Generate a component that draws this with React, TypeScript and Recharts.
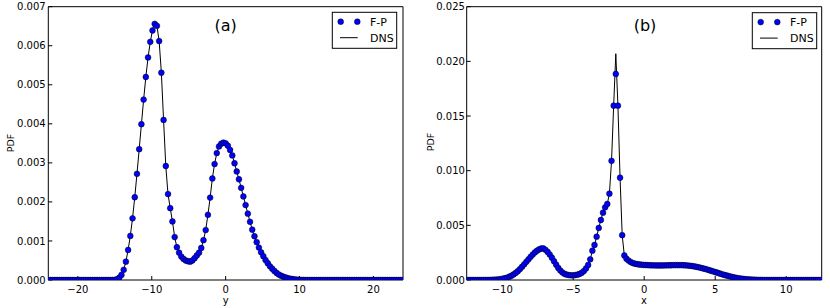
import React from 'react';
import { ComposedChart, Line, XAxis, YAxis } from 'recharts';

const FONT = '"DejaVu Sans", "Liberation Sans", sans-serif';

// ---------- Panel (a): PDF vs y (values in units of 1e-3) ----------
const xA = [
  -24, -23.7, -23.4, -23.1, -22.8, -22.5, -22.2, -21.9, -21.6, -21.3,
  -21, -20.7, -20.4, -20.1, -19.8, -19.5, -19.2, -18.9, -18.6, -18.3,
  -18, -17.7, -17.4, -17.1, -16.8, -16.5, -16.2, -15.9, -15.6, -15.3,
  -15, -14.7, -14.4, -14.1, -13.8, -13.5, -13.2, -12.9, -12.6, -12.3,
  -12, -11.7, -11.4, -11.1, -10.8, -10.5, -10.2, -9.9, -9.6, -9.3,
  -9, -8.7, -8.4, -8.1, -7.8, -7.5, -7.2, -6.9, -6.6, -6.3,
  -6, -5.7, -5.4, -5.1, -4.8, -4.5, -4.2, -3.9, -3.6, -3.3,
  -3, -2.7, -2.4, -2.1, -1.8, -1.5, -1.2, -0.9, -0.6, -0.3,
  0, 0.3, 0.6, 0.9, 1.2, 1.5, 1.8, 2.1, 2.4, 2.7,
  3, 3.3, 3.6, 3.9, 4.2, 4.5, 4.8, 5.1, 5.4, 5.7,
  6, 6.3, 6.6, 6.9, 7.2, 7.5, 7.8, 8.1, 8.4, 8.7,
  9, 9.3, 9.6, 9.9, 10.2, 10.5, 10.8, 11.1, 11.4, 11.7,
  12, 12.3, 12.6, 12.9, 13.2, 13.5, 13.8, 14.1, 14.4, 14.7,
  15, 15.3, 15.6, 15.9, 16.2, 16.5, 16.8, 17.1, 17.4, 17.7,
  18, 18.3, 18.6, 18.9, 19.2, 19.5, 19.8, 20.1, 20.4, 20.7,
  21, 21.3, 21.6, 21.9, 22.2, 22.5, 22.8, 23.1, 23.4, 23.7,
  24,
];
const fpA = [
  0, 0, 0, 0, 0, 0, 0, 0, 0, 0,
  0, 0, 0, 0, 0, 0, 0, 0, 0, 0,
  0, 0, 0, 0, 0, 0, 0, 0, 0, 0,
  0.005, 0.02, 0.06, 0.13, 0.26, 0.47, 0.77, 1.13, 1.58, 2.12,
  2.72, 3.35, 3.99, 4.62, 5.2, 5.7, 6.1, 6.39, 6.56, 6.51,
  6.12, 5.31, 4.1, 2.92, 2.2, 1.84, 1.5, 1.1, 0.84, 0.7,
  0.6, 0.54, 0.5, 0.48, 0.47, 0.5, 0.56, 0.63, 0.7, 0.82,
  1.02, 1.28, 1.67, 2.11, 2.6, 2.97, 3.25, 3.42, 3.49, 3.52,
  3.5, 3.44, 3.33, 3.19, 2.99, 2.78, 2.58, 2.36, 2.14, 1.92,
  1.7, 1.49, 1.29, 1.12, 0.97, 0.83, 0.71, 0.61, 0.51, 0.43,
  0.35, 0.29, 0.23, 0.18, 0.14, 0.11, 0.085, 0.065, 0.048, 0.035,
  0.025, 0.017, 0.011, 0.007, 0.004, 0.002, 0.001, 0, 0, 0,
  0, 0, 0, 0, 0, 0, 0, 0, 0, 0,
  0, 0, 0, 0, 0, 0, 0, 0, 0, 0,
  0, 0, 0, 0, 0, 0, 0, 0, 0, 0,
  0, 0, 0, 0, 0, 0, 0, 0, 0, 0,
  0,
];
const dnsA = [
  0, 0, 0, 0, 0, 0, 0, 0, 0, 0,
  0, 0, 0, 0, 0, 0, 0, 0, 0, 0,
  0, 0, 0, 0, 0, 0, 0, 0, 0, 0,
  0.005, 0.02, 0.06, 0.13, 0.26, 0.47, 0.77, 1.13, 1.58, 2.12,
  2.72, 3.35, 3.99, 4.62, 5.2, 5.7, 6.1, 6.39, 6.62, 6.51,
  6.12, 5.31, 4.1, 2.92, 2.2, 1.84, 1.5, 1.1, 0.84, 0.7,
  0.6, 0.54, 0.5, 0.48, 0.47, 0.5, 0.56, 0.63, 0.7, 0.82,
  1.02, 1.28, 1.67, 2.11, 2.6, 2.97, 3.25, 3.42, 3.49, 3.52,
  3.5, 3.44, 3.33, 3.19, 2.99, 2.78, 2.58, 2.36, 2.14, 1.92,
  1.7, 1.49, 1.29, 1.12, 0.97, 0.83, 0.71, 0.61, 0.51, 0.43,
  0.35, 0.29, 0.23, 0.18, 0.14, 0.11, 0.085, 0.065, 0.048, 0.035,
  0.025, 0.017, 0.011, 0.007, 0.004, 0.002, 0.001, 0, 0, 0,
  0, 0, 0, 0, 0, 0, 0, 0, 0, 0,
  0, 0, 0, 0, 0, 0, 0, 0, 0, 0,
  0, 0, 0, 0, 0, 0, 0, 0, 0, 0,
  0, 0, 0, 0, 0, 0, 0, 0, 0, 0,
  0,
];
const xTicksA = [-20, -10, 0, 10, 20];
const xTickLabelsA = ['\u221220', '\u221210', '0', '10', '20'];
const yTicksA = [0, 1, 2, 3, 4, 5, 6, 7];
const yTickLabelsA = ['0.000', '0.001', '0.002', '0.003', '0.004', '0.005', '0.006', '0.007'];

// ---------- Panel (b): PDF vs x (values in units of 1e-3) ----------
const xB = [
  -12.5, -12.35, -12.2, -12.05, -11.9, -11.75, -11.6, -11.45, -11.3, -11.15,
  -11, -10.85, -10.7, -10.55, -10.4, -10.25, -10.1, -9.95, -9.8, -9.65,
  -9.5, -9.35, -9.2, -9.05, -8.9, -8.75, -8.6, -8.45, -8.3, -8.15,
  -8, -7.85, -7.7, -7.55, -7.4, -7.25, -7.1, -6.95, -6.8, -6.65,
  -6.5, -6.35, -6.2, -6.05, -5.9, -5.75, -5.6, -5.45, -5.3, -5.15,
  -5, -4.85, -4.7, -4.55, -4.4, -4.25, -4.1, -3.95, -3.8, -3.65,
  -3.5, -3.35, -3.2, -3.05, -2.9, -2.75, -2.6, -2.45, -2.3, -2.15,
  -2, -1.85, -1.7, -1.55, -1.4, -1.25, -1.1, -0.95, -0.8, -0.65,
  -0.5, -0.35, -0.2, -0.05, 0.1, 0.25, 0.4, 0.55, 0.7, 0.85,
  1, 1.15, 1.3, 1.45, 1.6, 1.75, 1.9, 2.05, 2.2, 2.35,
  2.5, 2.65, 2.8, 2.95, 3.1, 3.25, 3.4, 3.55, 3.7, 3.85,
  4, 4.15, 4.3, 4.45, 4.6, 4.75, 4.9, 5.05, 5.2, 5.35,
  5.5, 5.65, 5.8, 5.95, 6.1, 6.25, 6.4, 6.55, 6.7, 6.85,
  7, 7.15, 7.3, 7.45, 7.6, 7.75, 7.9, 8.05, 8.2, 8.35,
  8.5, 8.65, 8.8, 8.95, 9.1, 9.25, 9.4, 9.55, 9.7, 9.85,
  10, 10.15, 10.3, 10.45, 10.6, 10.75, 10.9, 11.05, 11.2, 11.35,
  11.5, 11.65, 11.8, 11.95, 12.1, 12.25, 12.4,
];
const fpB = [
  0, 0, 0, 0, 0, 0, 0.001, 0.002, 0.004, 0.006,
  0.009, 0.013, 0.02, 0.029, 0.042, 0.06, 0.085, 0.12, 0.16, 0.22,
  0.3, 0.39, 0.51, 0.65, 0.81, 1, 1.21, 1.43, 1.66, 1.89,
  2.12, 2.33, 2.52, 2.68, 2.8, 2.88, 2.89, 2.76, 2.57, 2.33,
  2.04, 1.72, 1.4, 1.1, 0.86, 0.68, 0.56, 0.49, 0.45, 0.43,
  0.43, 0.45, 0.49, 0.56, 0.66, 0.82, 1.05, 1.37, 1.89, 2.68,
  3.2, 3.96, 4.76, 5.49, 6.16, 6.65, 6.95, 7.9, 10.9, 15.95,
  18.85, 15.95, 9.36, 4.1, 2.25, 1.95, 1.78, 1.64, 1.55, 1.49,
  1.45, 1.42, 1.4, 1.38, 1.37, 1.36, 1.35, 1.34, 1.34, 1.33,
  1.33, 1.33, 1.33, 1.34, 1.34, 1.35, 1.35, 1.36, 1.36, 1.36,
  1.36, 1.36, 1.35, 1.34, 1.32, 1.3, 1.27, 1.24, 1.2, 1.16,
  1.11, 1.06, 1.01, 0.95, 0.89, 0.83, 0.77, 0.71, 0.65, 0.58,
  0.52, 0.46, 0.41, 0.36, 0.31, 0.26, 0.22, 0.18, 0.15, 0.12,
  0.095, 0.075, 0.058, 0.044, 0.033, 0.024, 0.017, 0.012, 0.008, 0.005,
  0.003, 0.002, 0.001, 0, 0, 0, 0, 0, 0, 0,
  0, 0, 0, 0, 0, 0, 0, 0, 0, 0,
  0, 0, 0, 0, 0, 0, 0,
];
const dnsB = [
  0, 0, 0, 0, 0, 0, 0.001, 0.002, 0.004, 0.006,
  0.009, 0.013, 0.02, 0.029, 0.042, 0.06, 0.085, 0.12, 0.16, 0.22,
  0.3, 0.39, 0.51, 0.65, 0.81, 1, 1.21, 1.43, 1.66, 1.89,
  2.12, 2.33, 2.52, 2.68, 2.8, 2.88, 2.89, 2.76, 2.57, 2.33,
  2.04, 1.72, 1.4, 1.1, 0.86, 0.68, 0.56, 0.49, 0.45, 0.43,
  0.43, 0.45, 0.49, 0.56, 0.66, 0.82, 1.05, 1.37, 1.89, 2.68,
  3.2, 3.96, 4.76, 5.49, 6.16, 6.65, 6.95, 7.9, 10.9, 15.95,
  20.7, 15.95, 9.36, 4.1, 2.25, 1.95, 1.78, 1.64, 1.55, 1.49,
  1.45, 1.42, 1.4, 1.38, 1.37, 1.36, 1.35, 1.34, 1.34, 1.33,
  1.33, 1.33, 1.33, 1.34, 1.34, 1.35, 1.35, 1.36, 1.36, 1.36,
  1.36, 1.36, 1.35, 1.34, 1.32, 1.3, 1.27, 1.24, 1.2, 1.16,
  1.11, 1.06, 1.01, 0.95, 0.89, 0.83, 0.77, 0.71, 0.65, 0.58,
  0.52, 0.46, 0.41, 0.36, 0.31, 0.26, 0.22, 0.18, 0.15, 0.12,
  0.095, 0.075, 0.058, 0.044, 0.033, 0.024, 0.017, 0.012, 0.008, 0.005,
  0.003, 0.002, 0.001, 0, 0, 0, 0, 0, 0, 0,
  0, 0, 0, 0, 0, 0, 0, 0, 0, 0,
  0, 0, 0, 0, 0, 0, 0,
];
const xTicksB = [-10, -5, 0, 5, 10];
const xTickLabelsB = ['\u221210', '\u22125', '0', '5', '10'];
const yTicksB = [0, 5, 10, 15, 20, 25];
const yTickLabelsB = ['0.000', '0.005', '0.010', '0.015', '0.020', '0.025'];

const seriesNames = ['F-P', 'DNS'];

const rowsA = xA.map((x, i) => ({ x, fp: fpA[i], dns: dnsA[i] }));
const rowsB = xB.map((x, i) => ({ x, fp: fpB[i], dns: dnsB[i] }));

type PanelProps = {
  left: number;
  rows: { x: number; fp: number; dns: number }[];
  xDomain: [number, number];
  xTicks: number[];
  xLabels: string[];
  yMax: number;
  yTicks: number[];
  yLabels: string[];
  yAxisWidth: number;
  marginRight: number;
  yTickMargin: number;
};

const axisLine = { stroke: '#000', strokeWidth: 1 };
const tickStyle = { fill: '#000', fontSize: 10, fontFamily: FONT };

function Panel(p: PanelProps) {
  return (
    <div style={{ position: 'absolute', left: p.left, top: 0 }}>
      <ComposedChart
        width={415}
        height={308}
        data={p.rows}
        margin={{ top: 5.7, right: p.marginRight - 1, bottom: 0, left: 0 }}
      >
        <XAxis
          xAxisId="b"
          dataKey="x"
          type="number"
          domain={p.xDomain}
          ticks={p.xTicks}
          interval={0}
          allowDataOverflow
          height={28}
          tickSize={-4}
          tickMargin={9.6}
          tickFormatter={(v: number) => p.xLabels[p.xTicks.indexOf(v)]}
          axisLine={axisLine}
          tickLine={axisLine}
          tick={tickStyle}
        />
        <XAxis
          xAxisId="t"
          orientation="top"
          dataKey="x"
          type="number"
          domain={p.xDomain}
          ticks={p.xTicks}
          interval={0}
          allowDataOverflow
          height={1}
          tickSize={-4}
          tick={false}
          axisLine={axisLine}
          tickLine={axisLine}
        />
        <YAxis
          yAxisId="l"
          type="number"
          domain={[0, p.yMax]}
          ticks={p.yTicks}
          interval={0}
          allowDataOverflow
          width={p.yAxisWidth}
          tickSize={-4}
          tickMargin={p.yTickMargin}
          tickFormatter={(v: number) => p.yLabels[p.yTicks.indexOf(v)]}
          axisLine={axisLine}
          tickLine={axisLine}
          tick={tickStyle}
        />
        <YAxis
          yAxisId="r"
          orientation="right"
          type="number"
          domain={[0, p.yMax]}
          ticks={p.yTicks}
          interval={0}
          allowDataOverflow
          width={1}
          tickSize={-4}
          tick={false}
          axisLine={axisLine}
          tickLine={axisLine}
        />
        {/* invisible series binding the top / right frame axes */}
        <Line
          xAxisId="t"
          yAxisId="r"
          dataKey="dns"
          stroke="none"
          dot={false}
          activeDot={false}
          legendType="none"
          isAnimationActive={false}
        />
        <Line
          xAxisId="b"
          yAxisId="l"
          name={seriesNames[0]}
          dataKey="fp"
          stroke="none"
          dot={{ r: 2.9, fill: '#0000ff', stroke: '#000', strokeWidth: 0.5 }}
          activeDot={false}
          isAnimationActive={false}
        />
        <Line
          xAxisId="b"
          yAxisId="l"
          name={seriesNames[1]}
          dataKey="dns"
          type="linear"
          stroke="#000"
          strokeWidth={1}
          dot={false}
          activeDot={false}
          isAnimationActive={false}
        />
      </ComposedChart>
    </div>
  );
}

function LegendBox({ x, y }: { x: number; y: number }) {
  return (
    <g>
      <rect x={x} y={y} width={64.4} height={36} fill="#fff" stroke="#000" strokeWidth={1} />
      <circle cx={x + 8.4} cy={y + 9.4} r={2.9} fill="#0000ff" stroke="#000" strokeWidth={0.5} />
      <circle cx={x + 25} cy={y + 9.4} r={2.9} fill="#0000ff" stroke="#000" strokeWidth={0.5} />
      <text x={x + 37.7} y={y + 13.4} fontSize={11} fontFamily={FONT} fill="#000">
        {seriesNames[0]}
      </text>
      <line x1={x + 7.7} x2={x + 25.4} y1={y + 25.4} y2={y + 25.4} stroke="#000" strokeWidth={1} />
      <text x={x + 37.7} y={y + 29.4} fontSize={11} fontFamily={FONT} fill="#000">
        {seriesNames[1]}
      </text>
    </g>
  );
}

export default function App() {
  return (
    <div style={{ position: 'absolute', left: 0, top: 0, width: 830, height: 308, background: '#fff' }}>
      <Panel
        left={0}
        rows={rowsA}
        xDomain={[-24, 24]}
        xTicks={xTicksA}
        xLabels={xTickLabelsA}
        yMax={7}
        yTicks={yTicksA}
        yLabels={yTickLabelsA}
        yAxisWidth={48.3}
        marginRight={12}
        yTickMargin={6.6}
      />
      <Panel
        left={415}
        rows={rowsB}
        xDomain={[-12.5, 12.5]}
        xTicks={xTicksB}
        xLabels={xTickLabelsB}
        yMax={25}
        yTicks={yTicksB}
        yLabels={yTickLabelsB}
        yAxisWidth={51.7}
        marginRight={8.3}
        yTickMargin={5.8}
      />
      <svg
        width={830}
        height={308}
        style={{ position: 'absolute', left: 0, top: 0, pointerEvents: 'none' }}
      >
        <text x={225.7} y={31} textAnchor="middle" fontSize={16} fontFamily={FONT} fill="#000">(a)</text>
        <text x={645} y={31} textAnchor="middle" fontSize={16} fontFamily={FONT} fill="#000">(b)</text>
        <text x={13.5} y={143} textAnchor="middle" fontSize={9.5} fontFamily={FONT} fill="#000" transform="rotate(-90 13.5 143)">PDF</text>
        <text x={433.5} y={142} textAnchor="middle" fontSize={9.5} fontFamily={FONT} fill="#000" transform="rotate(-90 433.5 142)">PDF</text>
        <text x={225.7} y={304} textAnchor="middle" fontSize={10} fontFamily={FONT} fill="#000">y</text>
        <text x={644} y={304} textAnchor="middle" fontSize={10} fontFamily={FONT} fill="#000">x</text>
        <LegendBox x={332.3} y={12.3} />
        <LegendBox x={752.3} y={12.7} />
      </svg>
    </div>
  );
}
